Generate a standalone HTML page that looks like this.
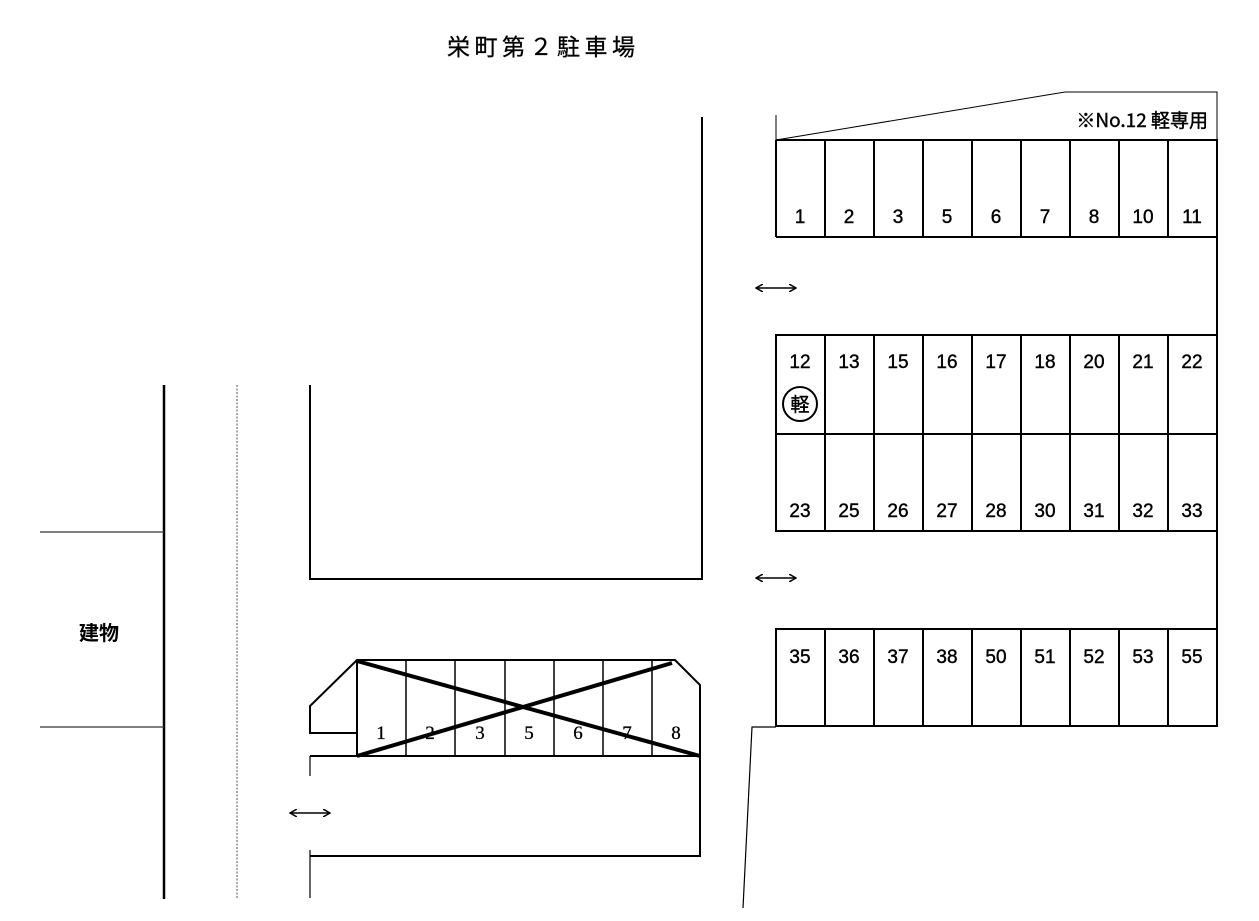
<!DOCTYPE html>
<html><head><meta charset="utf-8"><style>
html,body{margin:0;padding:0;background:#fff;}
svg{display:block;}
text{font-family:"Liberation Sans","Noto Sans CJK JP",sans-serif;fill:#000;}
.n{font-family:"Liberation Sans Narrow","Liberation Sans",sans-serif;font-size:19px;stroke:#000;stroke-width:0.4;}
.s{font-family:"Liberation Serif",serif;font-size:19px;stroke:#000;stroke-width:0.3;}
</style></head><body>
<svg width="1259" height="921" viewBox="0 0 1259 921" xmlns="http://www.w3.org/2000/svg">
<defs>
<marker id="a" markerWidth="8" markerHeight="8" refX="7" refY="4" orient="auto-start-reverse" markerUnits="userSpaceOnUse">
<path d="M0,0 L7,4 L0,8" fill="none" stroke="#000" stroke-width="1.5"/>
</marker>
</defs>
<text x="447" y="55" font-size="23" letter-spacing="4.5" stroke="#000" stroke-width="0.3">栄町第２駐車場</text>

<!-- left area -->
<line x1="164" y1="385" x2="164" y2="899" stroke="#000" stroke-width="2.5"/>
<line x1="237" y1="385" x2="237" y2="899" stroke="#555" stroke-width="1" stroke-dasharray="2,1.5"/>
<line x1="40" y1="532" x2="164" y2="532" stroke="#333" stroke-width="1.2"/>
<line x1="40" y1="727" x2="164" y2="727" stroke="#333" stroke-width="1.2"/>
<text x="79" y="640" font-size="20" font-weight="bold">建物</text>

<!-- big rect -->
<polyline points="310,385 310,579 702,579 702,117" fill="none" stroke="#000" stroke-width="2"/>

<!-- bottom-left lot -->
<g stroke="#000" fill="none">
<polyline points="357,733 310,733 310,706 357,660 675,660 700,685 700,856 310,856" stroke-width="2"/>
<line x1="357" y1="660" x2="357" y2="756" stroke-width="2"/>
<line x1="310" y1="756" x2="700" y2="756" stroke-width="2"/>
<line x1="406" y1="660" x2="406" y2="756" stroke-width="1.5"/>
<line x1="455" y1="660" x2="455" y2="756" stroke-width="1.5"/>
<line x1="505" y1="660" x2="505" y2="756" stroke-width="1.5"/>
<line x1="554" y1="660" x2="554" y2="756" stroke-width="1.5"/>
<line x1="603" y1="660" x2="603" y2="756" stroke-width="1.5"/>
<line x1="652" y1="660" x2="652" y2="756" stroke-width="1.5"/>
<line x1="310" y1="756" x2="310" y2="776" stroke-width="1.2"/>
<line x1="310" y1="850" x2="310" y2="898" stroke-width="1.2"/>
</g>
<g text-anchor="middle">
<text class="s" x="381" y="739">1</text>
<text class="s" x="430" y="739">2</text>
<text class="s" x="480" y="739">3</text>
<text class="s" x="529" y="739">5</text>
<text class="s" x="578" y="739">6</text>
<text class="s" x="627" y="739">7</text>
<text class="s" x="676" y="739">8</text>
</g>
<line x1="357" y1="661" x2="700" y2="756" stroke="#000" stroke-width="4"/>
<line x1="357" y1="756" x2="672" y2="663" stroke="#000" stroke-width="4"/>

<!-- right lots -->
<g stroke="#000" fill="none">
<polyline points="776,115 776,140 1065,92 1217,92 1217,140" stroke-width="1"/>
<polyline points="776,140 1217,140 1217,726 776,726 776,629 1217,629" stroke-width="2"/>
<polyline points="776,237 776,140" stroke-width="2"/>
<line x1="776" y1="237" x2="1217" y2="237" stroke-width="2"/>
<polyline points="1217,335 776,335 776,531 1217,531" stroke-width="2"/>
<line x1="776" y1="434" x2="1217" y2="434" stroke-width="2"/>
</g>
<g stroke="#000" stroke-width="2">
<line x1="825" y1="140" x2="825" y2="237"/><line x1="874" y1="140" x2="874" y2="237"/><line x1="923" y1="140" x2="923" y2="237"/><line x1="972" y1="140" x2="972" y2="237"/><line x1="1021" y1="140" x2="1021" y2="237"/><line x1="1070" y1="140" x2="1070" y2="237"/><line x1="1119" y1="140" x2="1119" y2="237"/><line x1="1168" y1="140" x2="1168" y2="237"/>
<line x1="825" y1="335" x2="825" y2="531"/><line x1="874" y1="335" x2="874" y2="531"/><line x1="923" y1="335" x2="923" y2="531"/><line x1="972" y1="335" x2="972" y2="531"/><line x1="1021" y1="335" x2="1021" y2="531"/><line x1="1070" y1="335" x2="1070" y2="531"/><line x1="1119" y1="335" x2="1119" y2="531"/><line x1="1168" y1="335" x2="1168" y2="531"/>
<line x1="825" y1="629" x2="825" y2="726"/><line x1="874" y1="629" x2="874" y2="726"/><line x1="923" y1="629" x2="923" y2="726"/><line x1="972" y1="629" x2="972" y2="726"/><line x1="1021" y1="629" x2="1021" y2="726"/><line x1="1070" y1="629" x2="1070" y2="726"/><line x1="1119" y1="629" x2="1119" y2="726"/><line x1="1168" y1="629" x2="1168" y2="726"/>
</g>
<polyline points="776,727 752,727 743,908" fill="none" stroke="#000" stroke-width="1.2"/>
<text class="n" x="1208" y="127" text-anchor="end" style="font-family:'Liberation Sans Narrow','Noto Sans CJK JP',sans-serif">※No.12 軽専用</text>
<g text-anchor="middle">
<text class="n" x="800" y="223">1</text><text class="n" x="849" y="223">2</text><text class="n" x="898" y="223">3</text><text class="n" x="947" y="223">5</text><text class="n" x="996" y="223">6</text><text class="n" x="1045" y="223">7</text><text class="n" x="1094" y="223">8</text><text class="n" x="1143" y="223">10</text><text class="n" x="1192" y="223">11</text>
<text class="n" x="800" y="368">12</text><text class="n" x="849" y="368">13</text><text class="n" x="898" y="368">15</text><text class="n" x="947" y="368">16</text><text class="n" x="996" y="368">17</text><text class="n" x="1045" y="368">18</text><text class="n" x="1094" y="368">20</text><text class="n" x="1143" y="368">21</text><text class="n" x="1192" y="368">22</text>
<text class="n" x="800" y="517">23</text><text class="n" x="849" y="517">25</text><text class="n" x="898" y="517">26</text><text class="n" x="947" y="517">27</text><text class="n" x="996" y="517">28</text><text class="n" x="1045" y="517">30</text><text class="n" x="1094" y="517">31</text><text class="n" x="1143" y="517">32</text><text class="n" x="1192" y="517">33</text>
<text class="n" x="800" y="663">35</text><text class="n" x="849" y="663">36</text><text class="n" x="898" y="663">37</text><text class="n" x="947" y="663">38</text><text class="n" x="996" y="663">50</text><text class="n" x="1045" y="663">51</text><text class="n" x="1094" y="663">52</text><text class="n" x="1143" y="663">53</text><text class="n" x="1192" y="663">55</text>
</g>
<circle cx="800" cy="404" r="17" fill="none" stroke="#000" stroke-width="2"/>
<text x="800" y="411" font-size="19" text-anchor="middle" stroke="#000" stroke-width="0.4">軽</text>

<!-- arrows -->
<g stroke="#000" stroke-width="1.5" marker-start="url(#a)" marker-end="url(#a)">
<line x1="756" y1="288" x2="796" y2="288"/>
<line x1="756" y1="578" x2="796" y2="578"/>
<line x1="290" y1="813" x2="330" y2="813"/>
</g>
</svg>
</body></html>
